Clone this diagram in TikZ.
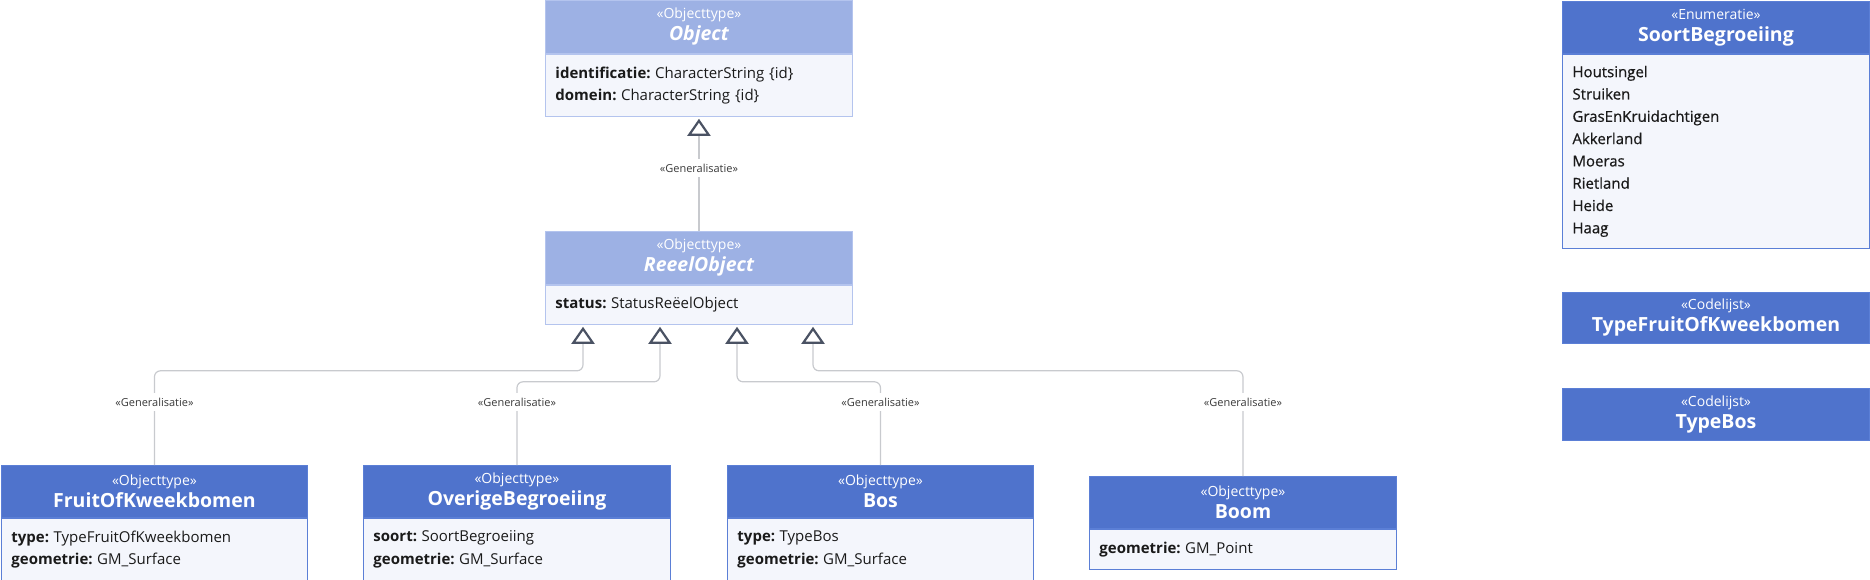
\documentclass[tikz,border=0pt]{standalone}
\usepackage{fontspec}
\setmainfont{Open Sans}
\newfontfamily\medf{Open Sans}[FakeBold=0.6]
\usetikzlibrary{arrows.meta}
\definecolor{hdrc}{HTML}{4F73CC}
\definecolor{hdrl}{HTML}{9DB1E4}
\definecolor{bodyc}{HTML}{F4F6FC}
\definecolor{bord}{HTML}{5B7FD6}
\definecolor{bordl}{HTML}{B4C4EE}
\definecolor{linec}{HTML}{C8CACE}
\definecolor{tric}{HTML}{4A5263}
\definecolor{lblc}{HTML}{3A3A3A}
\definecolor{txtc}{HTML}{1A1A1A}
\newcommand{\stereo}[1]{{\fontsize{14}{22}\selectfont #1}}
\newcommand{\ttl}[1]{{\fontsize{19.5}{22}\selectfont\bfseries #1}}
\newcommand{\attr}[2]{\textbf{#1:}\hspace{0.3em}#2}
\begin{document}
\begin{tikzpicture}[x=1pt,y=-1pt,
  hdr/.style={draw=bord, fill=hdrc, text=white, anchor=north west, inner sep=0pt,
    align=center, line width=0.9pt, minimum width=307pt, minimum height=52pt,
    font=\fontsize{14}{22}\selectfont},
  hdrlight/.style={hdr, draw=bordl, fill=hdrl},
  bodybox/.style={draw=bord, fill=bodyc, text=txtc, anchor=north west, inner xsep=10pt,
    inner ysep=0pt, text width=287pt, align=left, line width=0.9pt,
    font=\fontsize{15}{22.3}\selectfont},
  bodylight/.style={bodybox, draw=bordl},
  gen/.style={draw=linec, line width=1.2pt, rounded corners=6pt,
    -{Triangle[color=tric, fill=white, line width=2.2pt, length=17pt, width=23pt]}},
  glbl/.style={fill=white, text=lblc, inner xsep=2pt, inner ysep=5pt,
    font=\fontsize{11}{13}\selectfont}
]
\useasboundingbox (0,0) rectangle (1870,580);

% Object
\node[hdrlight, minimum height=53pt] (objH) at (545,0) {\stereo{«Objecttype»}\\\ttl{\itshape Object}};
\node[bodylight, minimum height=62pt] (objB) at (objH.south west)
  {\attr{identificatie}{CharacterString \{id\}}\\\attr{domein}{CharacterString \{id\}}};

% ReeelObject
\node[hdrlight, minimum height=53pt] (reH) at (545,231) {\stereo{«Objecttype»}\\\ttl{\itshape ReeelObject}};
\node[bodylight, minimum height=39pt] (reB) at (reH.south west)
  {\attr{status}{StatusReëelObject}};

% FruitOfKweekbomen
\node[hdr, minimum width=306pt] (fruitH) at (1,465) {\stereo{«Objecttype»}\\\ttl{FruitOfKweekbomen}};
\node[bodybox, text width=286pt, minimum height=62pt] (fruitB) at (fruitH.south west)
  {\attr{type}{TypeFruitOfKweekbomen}\\\attr{geometrie}{GM\_Surface}};

% OverigeBegroeiing
\node[hdr] (overH) at (363,465) {\stereo{«Objecttype»}\\\ttl{OverigeBegroeiing}};
\node[bodybox, minimum height=62pt] (overB) at (overH.south west)
  {\attr{soort}{SoortBegroeiing}\\\attr{geometrie}{GM\_Surface}};

% Bos
\node[hdr, minimum width=306pt] (bosH) at (727,465) {\stereo{«Objecttype»}\\\ttl{Bos}};
\node[bodybox, text width=286pt, minimum height=62pt] (bosB) at (bosH.south west)
  {\attr{type}{TypeBos}\\\attr{geometrie}{GM\_Surface}};

% Boom
\node[hdr] (boomH) at (1089,476) {\stereo{«Objecttype»}\\\ttl{Boom}};
\node[bodybox, minimum height=40pt] (boomB) at (boomH.south west)
  {\attr{geometrie}{GM\_Point}};

% SoortBegroeiing
\node[hdr] (enumH) at (1562,1) {\stereo{«Enumeratie»}\\\ttl{SoortBegroeiing}};
\node[bodybox, minimum height=194pt, font=\medf\fontsize{15}{22.3}\selectfont] (enumB) at (enumH.south west)
  {Houtsingel\\Struiken\\GrasEnKruidachtigen\\Akkerland\\Moeras\\Rietland\\Heide\\Haag};

% Codelijsten
\node[hdr, minimum height=51pt] (tfH) at (1562,292) {\stereo{«Codelijst»}\\\ttl{TypeFruitOfKweekbomen}};
\node[hdr] (tbH) at (1562,388) {\stereo{«Codelijst»}\\\ttl{TypeBos}};

% tip coordinates
\coordinate (t0) at ([yshift=-2pt]objB.south);
\coordinate (t1) at ([xshift=38pt,yshift=-2pt]reB.south west);
\coordinate (t2) at ([xshift=115pt,yshift=-2pt]reB.south west);
\coordinate (t3) at ([xshift=192pt,yshift=-2pt]reB.south west);
\coordinate (t4) at ([xshift=268pt,yshift=-2pt]reB.south west);

% connectors
\draw[gen] (reH.north) -- (t0);
\draw[gen] (fruitH.north) |- ([yshift=-44pt]t1) -- (t1);
\draw[gen] (overH.north) |- ([yshift=-55pt]t2) -- (t2);
\draw[gen] (bosH.north) |- ([yshift=-55pt]t3) -- (t3);
\draw[gen] (boomH.north) |- ([yshift=-44pt]t4) -- (t4);

% labels
\path (reH.north) ++(0,-63) node[glbl] (g0) {«Generalisatie»};
\path (fruitH.north) ++(0,-63) node[glbl] (g1) {«Generalisatie»};
\path (overH.north) ++(0,-63) node[glbl] (g2) {«Generalisatie»};
\path (bosH.north) ++(0,-63) node[glbl] (g3) {«Generalisatie»};
\path (boomH.north) ++(0,-74) node[glbl] (g4) {«Generalisatie»};
\end{tikzpicture}
\end{document}
